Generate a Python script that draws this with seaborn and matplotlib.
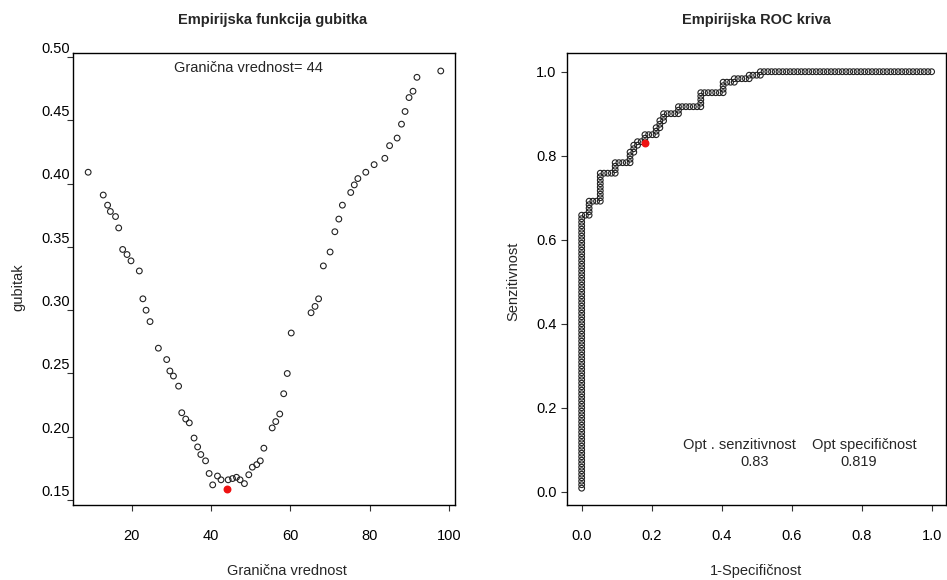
import numpy as np
import pandas as pd
import seaborn as sns
import matplotlib.pyplot as plt
from matplotlib.transforms import ScaledTranslation

prag = [9.0, 12.8, 13.9, 14.6, 15.9, 16.7, 17.7, 18.8, 19.8, 21.9, 22.8, 23.6, 24.6, 26.7,
        28.8, 29.6, 30.5, 31.8, 32.6, 33.6, 34.5, 35.7, 36.6, 37.4, 38.6, 39.5, 40.4, 41.6, 42.5,
        44.3, 45.4, 46.4, 47.3, 48.4, 49.5, 50.4, 51.5, 52.4, 53.3, 55.4, 56.3, 57.3, 58.3, 59.2,
        60.2, 65.2, 66.2, 67.1, 68.3, 70.0, 71.2, 72.2, 73.1, 75.2, 76.1, 77.0, 79.0, 81.1, 83.8,
        85.0, 86.9, 88.0, 88.9, 89.9, 90.9, 91.9, 97.9]
gubitak = [0.409, 0.391, 0.383, 0.378, 0.374, 0.365, 0.348, 0.344, 0.339, 0.331, 0.309, 0.300, 0.291, 0.270,
           0.261, 0.252, 0.248, 0.240, 0.219, 0.214, 0.211, 0.199, 0.192, 0.186, 0.181, 0.171, 0.162, 0.169, 0.166,
           0.166, 0.167, 0.168, 0.166, 0.163, 0.170, 0.176, 0.178, 0.181, 0.191, 0.207, 0.212, 0.218, 0.234, 0.250,
           0.282, 0.298, 0.303, 0.309, 0.335, 0.346, 0.362, 0.372, 0.383, 0.393, 0.399, 0.404, 0.409, 0.415, 0.420,
           0.430, 0.436, 0.447, 0.457, 0.468, 0.473, 0.484, 0.489]
opt_prag = 44
opt_gubitak = 0.159

# Empirical ROC: sorted labels as runs (positives up, negatives right)
n_poz = 120
n_neg = 94
roc_gore = [79, 4, 8, 3, 3, 2, 1, 2, 2, 2, 2, 2, 4, 3, 1, 1, 1]
roc_desno = [2, 3, 4, 4, 1, 1, 2, 3, 1, 1, 4, 6, 6, 3, 4, 3, 46]
opt_sens = 0.83
opt_spec = 0.819

df_loss = pd.DataFrame({'prag': prag, 'gubitak': gubitak})

fp, tp = [], []
i = j = 0
for up, right in zip(roc_gore, roc_desno):
    for _ in range(up):
        j += 1
        fp.append(i)
        tp.append(j)
    for _ in range(right):
        i += 1
        fp.append(i)
        tp.append(j)
df_roc = pd.DataFrame({'fpr': np.array(fp) / n_neg, 'tpr': np.array(tp) / n_poz})

sns.set_style('white')
plt.rcParams['font.family'] = ['Liberation Sans', 'DejaVu Sans']

fig, (ax1, ax2) = plt.subplots(1, 2, figsize=(9.47, 5.8), dpi=100)
ax1.set_position([0.0776, 0.1293, 0.4029, 0.7793])
ax2.set_position([0.5987, 0.1293, 0.4002, 0.7793])

pt = dict(marker='o', s=17, facecolor='none', edgecolor='#222222', linewidth=0.8, legend=False)

# left panel
sns.scatterplot(data=df_loss, x='prag', y='gubitak', ax=ax1, **pt)
ax1.scatter([opt_prag], [opt_gubitak], s=22, color='#ee1111', zorder=3)
ax1.set_xlim(5.3, 101.5)
ax1.set_ylim(0.1461, 0.5032)
ax1.set_xticks([20, 40, 60, 80, 100])
yt = [0.15, 0.20, 0.25, 0.30, 0.35, 0.40, 0.45, 0.50]
ax1.set_yticks(yt)
ax1.set_yticklabels(['%.2f' % v for v in yt])
ax1.text(49.3, 0.4913, 'Granična vrednost= %d' % opt_prag, ha='center', va='center', fontsize=10.5)
ax1.text(0.523, 1.073, 'Empirijska funkcija gubitka', transform=ax1.transAxes,
         ha='center', va='center', fontsize=10.5, fontweight='bold')
ax1.set_xlabel('Granična vrednost', fontsize=10.5)
ax1.set_ylabel('gubitak', fontsize=10.5)
ax1.xaxis.set_label_coords(0.56, -0.146)
ax1.yaxis.set_label_coords(-0.1455, 0.482)

# right panel
sns.scatterplot(data=df_roc, x='fpr', y='tpr', ax=ax2, **pt)
ax2.scatter([1 - opt_spec], [opt_sens], s=22, color='#ee1111', zorder=3)
ax2.set_xlim(-0.042, 1.041)
ax2.set_ylim(-0.0317, 1.0445)
t2 = [0.0, 0.2, 0.4, 0.6, 0.8, 1.0]
ax2.set_xticks(t2)
ax2.set_xticklabels(['%.1f' % v for v in t2])
ax2.set_yticks(t2)
ax2.set_yticklabels(['%.1f' % v for v in t2])
ax2.text(0.452, 0.111, 'Opt . senzitivnost', ha='center', va='center', fontsize=10.5)
ax2.text(0.495, 0.071, '%.2f' % opt_sens, ha='center', va='center', fontsize=10.5)
ax2.text(0.807, 0.111, 'Opt specifičnost', ha='center', va='center', fontsize=10.5)
ax2.text(0.792, 0.071, '%.3f' % opt_spec, ha='center', va='center', fontsize=10.5)
ax2.text(0.5, 1.073, 'Empirijska ROC kriva', transform=ax2.transAxes,
         ha='center', va='center', fontsize=10.5, fontweight='bold')
ax2.set_xlabel('1-Specifičnost', fontsize=10.5)
ax2.set_ylabel('Senzitivnost', fontsize=10.5)
ax2.xaxis.set_label_coords(0.5, -0.146)
ax2.yaxis.set_label_coords(-0.1425, 0.496)

for ax in (ax1, ax2):
    ax.xaxis.label.set_va('center')
    ax.yaxis.label.set_va('center')
    for sp in ax.spines.values():
        sp.set_color('black')
        sp.set_linewidth(1.0)
    ax.tick_params(axis='both', direction='out', length=4.5, width=0.8, color='#333333',
                   labelsize=10.5, labelcolor='black', left=True, bottom=True)
    ax.tick_params(axis='x', pad=13)

ax1.tick_params(axis='y', pad=-2)
ax2.tick_params(axis='y', pad=3)
# left panel tick labels sit a bit above their ticks in the original
shift = ScaledTranslation(0, 7 / 72, fig.dpi_scale_trans)
for lab in ax1.get_yticklabels():
    lab.set_transform(lab.get_transform() + shift)

fig.savefig('out.png', dpi=100)
